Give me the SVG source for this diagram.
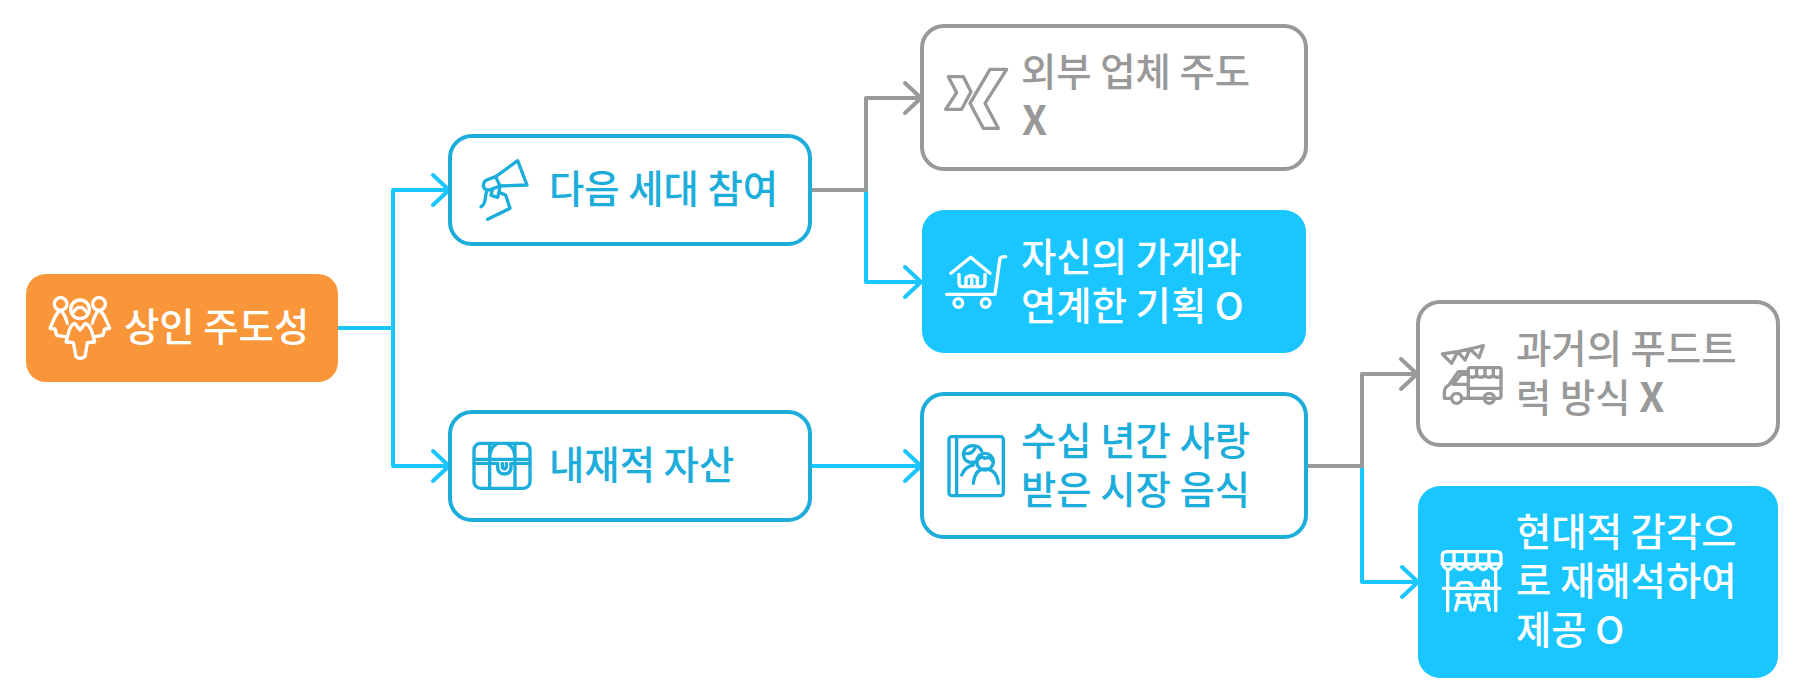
<svg xmlns="http://www.w3.org/2000/svg" width="1804" height="697" viewBox="0 0 1804 697">
<style>
text{font-family:"Noto Sans CJK KR","Noto Sans",sans-serif;font-size:38.4px;font-weight:500}
.x{font-weight:700;font-size:40px}
.out{fill:#fff;stroke:#1CADDB;stroke-width:4}
.gout{fill:#fff;stroke:#999;stroke-width:4}
.ob{fill:#1CADDB}.og{fill:#999}.ow{fill:#fff}
.c{fill:none;stroke-width:4;stroke-linecap:round;stroke-linejoin:round}
.blue{stroke:#1AC6FF}.gray{stroke:#999}
.i{fill:none;stroke-width:10;stroke-linecap:round;stroke-linejoin:round}
.ib{stroke:#1CADDB}.ig{stroke:#999}.iw{stroke:#fff}
</style>
<g id="connectors">
<path class="c blue" d="M338 328H393V190H447M433 175L449 190L433 205"/>
<path class="c blue" d="M393 328V466H447M433 451L449 466L433 481"/>
<path class="c blue" d="M866 190V282H919M905 267L921 282L905 297"/>
<path class="c gray" d="M811 190H866V98H919M905 83L921 98L905 113"/>
<path class="c blue" d="M811 466H919M905 451L921 466L905 481"/>
<path class="c blue" d="M1362 466V582H1416M1402 567L1418 582L1402 597"/>
<path class="c gray" d="M1307 466H1362V374H1415M1401 359L1417 374L1401 389"/>
</g>
<g id="node-root">
<rect x="26" y="274" width="312" height="108" rx="20" fill="#F99639"/>
<g class="i iw" transform="translate(30 280) scale(.3333)">
<circle cx="150" cy="88" r="28"/><circle cx="92" cy="72" r="19"/><circle cx="207" cy="72" r="19"/>
<path d="M130 96Q150 68 170 96"/>
<path d="M134 130C120 135 118 150 108 186L130 188L138 230Q150 240 165 230L172 188L194 186C185 150 180 135 166 130L150 150Z"/>
<path d="M92 91C78 95 72 120 60 145L75 147L80 166L105 170M112 130C108 115 102 100 92 91"/>
<path d="M207 91C221 95 227 120 239 145L224 147L219 166L194 170M187 130C191 115 197 100 207 91"/>
</g>
<text class="ow" x="124" y="341">상인 주도성</text>
</g>
<g id="node-next-gen">
<rect class="out" x="450" y="136" width="360" height="108" rx="22"/>
<g class="i ib" transform="translate(465 150) scale(.3333)">
<path d="M92 80L158 32L186 105L105 108Z"/>
<path d="M92 80L65 90Q52 98 56 112Q62 124 78 118L105 108"/>
<path d="M82 120L78 136L98 142L104 116"/>
<path d="M65 125C58 140 66 160 48 170M104 128L122 135L135 175L68 208"/>
</g>
<text class="ob" x="549" y="203">다음 세대 참여</text>
</g>
<g id="node-assets">
<rect class="out" x="450" y="412" width="360" height="108" rx="22"/>
<g class="i ib" transform="translate(465 430) scale(.3333)">
<rect x="27" y="40" width="168" height="135" rx="20"/>
<path d="M27 88H195M27 100H98M138 100H195"/>
<path d="M74 40V175M150 40V175M74 88Q74 52 95 42M150 88Q150 52 128 42"/>
<path d="M98 100V112Q98 132 118 132Q138 132 138 112V100"/>
<path d="M112 100V112Q118 122 124 112V100"/>
</g>
<text class="ob" x="549" y="479">내재적 자산</text>
</g>
<g id="node-external">
<rect class="gout" x="922" y="26" width="384" height="143" rx="22"/>
<g class="i ig" transform="translate(935 60) scale(.3333)">
<path d="M40 50H85L108 95L80 148H32L65 98Z"/>
<path d="M165 28H215L150 130L190 205H145L105 130Z"/>
</g>
<text class="og" x="1021" y="86">외부 업체 주도</text>
<text class="og x" x="1022" y="135">X</text>
</g>
<g id="node-store-link">
<rect x="922" y="210" width="384" height="143" rx="22" fill="#1AC6FF"/>
<g class="i iw" transform="translate(940 235) scale(.3333)">
<path d="M33 115L92 67L150 115"/>
<path d="M57 118V145Q57 155 67 155H125Q135 155 135 145V118"/>
<path d="M78 155V128Q95 116 112 128V155M95 132V155"/>
<path d="M20 178H165L180 70Q182 65 197 65"/>
<circle cx="55" cy="204" r="13"/><circle cx="137" cy="204" r="13"/>
</g>
<text class="ow" x="1021" y="271">자신의 가게와</text>
<text class="ow" x="1021" y="320">연계한 기획 O</text>
</g>
<g id="node-market-food">
<rect class="out" x="922" y="394" width="384" height="143" rx="22"/>
<g class="i ib" transform="translate(940 425) scale(.3333)">
<rect x="27" y="35" width="163" height="177" rx="8"/>
<path d="M50 35V212"/>
<circle cx="135" cy="110" r="25"/>
<path d="M110 112Q118 90 135 100Q150 92 160 112M100 175Q105 132 135 132Q170 132 175 175"/>
<path d="M110 110Q72 120 70 85Q75 62 100 62Q118 62 125 78M65 150Q75 125 100 120"/>
<path d="M75 85Q95 90 105 70"/>
</g>
<text class="ob" x="1021" y="455">수십 년간 사랑</text>
<text class="ob" x="1021" y="504">받은 시장 음식</text>
</g>
<g id="node-foodtruck">
<rect class="gout" x="1418" y="302" width="360" height="143" rx="22"/>
<g class="i ig" transform="translate(1435 335) scale(.3333)">
<path d="M22 57L68 50L105 42L145 32L132 68L105 42L90 75L68 50L50 85Z"/>
<rect x="100" y="98" width="98" height="92" rx="6"/>
<path d="M100 110H70L42 150Q28 155 28 175V190H48M80 190H148M55 148L78 118H100M55 148H100"/>
<path d="M100 122Q112 132 125 122Q137 132 150 122Q162 132 175 122Q187 132 198 122M125 100V122M150 100V122M175 100V122M100 160H198"/>
<circle cx="65" cy="190" r="15"/><circle cx="163" cy="190" r="15"/>
</g>
<text class="og" x="1516" y="363">과거의 푸드트</text>
<text class="og" x="1516" y="412">럭 방식 <tspan class="x">X</tspan></text>
</g>
<g id="node-reinterpret">
<rect x="1418" y="486" width="360" height="192" rx="22" fill="#1AC6FF"/>
<g class="i iw" transform="translate(1435 540) scale(.3333)">
<path d="M22 72V48Q22 35 35 35H185Q198 35 198 48V72Z"/>
<path d="M22 72Q40 105 57 72Q75 105 92 72Q110 105 127 72Q145 105 162 72Q180 105 198 72M57 35V72M92 35V72M127 35V72M162 35V72"/>
<path d="M38 92V212M182 92V212M25 145H195"/>
<path d="M68 145Q66 130 80 128H100Q112 130 110 145M145 145V128Q150 116 160 125V145"/>
<path d="M65 165H105M74 165L62 210M96 165L108 210M68 187H102M120 165H160M129 165L117 210M151 165L163 210M123 187H157"/>
</g>
<text class="ow" x="1516" y="546">현대적 감각으</text>
<text class="ow" x="1516" y="595">로 재해석하여</text>
<text class="ow" x="1516" y="644">제공 O</text>
</g>
</svg>
